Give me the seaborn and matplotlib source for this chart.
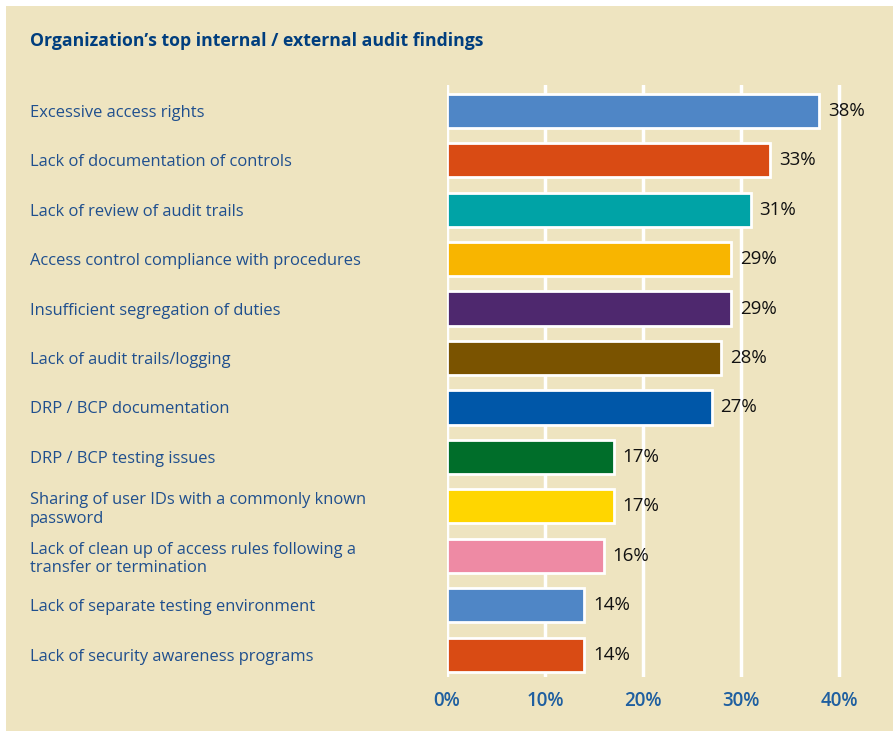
import matplotlib
matplotlib.use("Agg")
import matplotlib.pyplot as plt
import matplotlib.patches as mpatches
import seaborn as sns
import pandas as pd

findings = [
    "Excessive access rights",
    "Lack of documentation of controls",
    "Lack of review of audit trails",
    "Access control compliance with procedures",
    "Insufficient segregation of duties",
    "Lack of audit trails/logging",
    "DRP / BCP documentation",
    "DRP / BCP testing issues",
    "Sharing of user IDs with a commonly known\npassword",
    "Lack of clean up of access rules following a\ntransfer or termination",
    "Lack of separate testing environment",
    "Lack of security awareness programs",
]
percent = [38, 33, 31, 29, 29, 28, 27, 17, 17, 16, 14, 14]
bar_colors = [
    "#4F86C6", "#D94B14", "#00A3A6", "#F8B500", "#4E286E", "#7A5300",
    "#0057A8", "#006E2A", "#FFD600", "#EE8AA4", "#4F86C6", "#D94B14",
]
x_ticks = [0, 10, 20, 30, 40]
x_tick_labels = ["0%", "10%", "20%", "30%", "40%"]
title = "Organization\u2019s top internal / external audit findings"

BG = "#EEE4C0"
LABEL_BLUE = "#1F4F8E"
TITLE_BLUE = "#003E7E"

sns.set_theme(style="white")
plt.rcParams["font.family"] = ["Open Sans", "DejaVu Sans"]

W, H = 893, 731
fig = plt.figure(figsize=(W / 100, H / 100), dpi=100, facecolor="white")
fig.patches.append(mpatches.Rectangle((6 / W, 0), 1 - 6 / W, 1 - 6 / H,
                                      transform=fig.transFigure,
                                      facecolor=BG, edgecolor="none", zorder=-10))

ax_left, ax_right = 447 / W, 888 / W
ax_top, ax_bottom = 1 - 85 / H, 1 - 677 / H
ax = fig.add_axes([ax_left, ax_bottom, ax_right - ax_left, ax_top - ax_bottom])
ax.set_facecolor("none")

df = pd.DataFrame({"finding": findings, "percent": percent})
sns.barplot(data=df, x="percent", y="finding", hue="finding",
            palette=bar_colors, saturation=1, legend=False, orient="h",
            width=0.69, edgecolor="white", linewidth=2, ax=ax, zorder=3)

ax.set_xlim(0, 45)
ax.set_ylim(11.45, -0.52)
for t in x_ticks:
    ax.axvline(t, color="white", lw=2.5, zorder=1)

ax.set_xticks(x_ticks)
ax.set_xticklabels(x_tick_labels, fontsize=13.5, color="#1F5FA0",
                   fontweight="semibold")
ax.tick_params(axis="x", length=0, pad=10)
ax.tick_params(axis="y", length=0, pad=(447 - 30) * 0.72)
for lab in ax.get_yticklabels():
    lab.set_horizontalalignment("left")
    lab.set_color(LABEL_BLUE)
    lab.set_fontsize(11.9)
    lab.set_linespacing(1.2)
ax.set_xlabel("")
ax.set_ylabel("")
ax.grid(False)
for s in ax.spines.values():
    s.set_visible(False)

for i, v in enumerate(percent):
    ax.text(v + 0.9, i, f"{v}%", va="center", ha="left", fontsize=13.5,
            color="#111111", fontweight="medium", zorder=4)

fig.text(30 / W, 1 - 41 / H, title, fontsize=12.7, fontweight="bold",
         color=TITLE_BLUE, va="center", ha="left")

fig.savefig("out.png", dpi=100, facecolor="white")
